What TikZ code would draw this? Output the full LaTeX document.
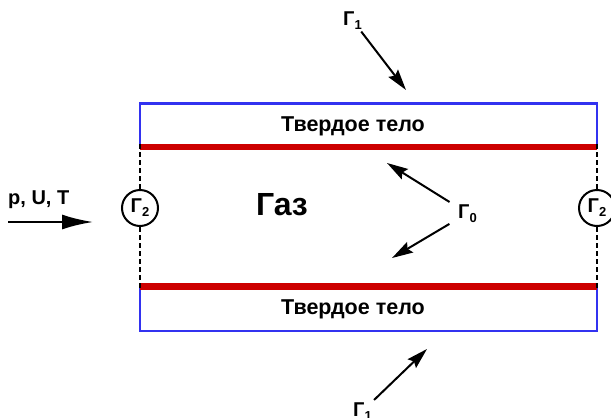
\documentclass[tikz,border=0pt]{standalone}
\usepackage{fontspec}
\setmainfont{Liberation Sans}
\usetikzlibrary{positioning, arrows.meta, calc}
\definecolor{wallblue}{RGB}{50,50,240}
\definecolor{wallred}{RGB}{205,0,0}
\newcommand{\gsub}[1]{Г\raisebox{-4pt}{\fontsize{13}{13}\selectfont #1}}

\begin{document}
\begin{tikzpicture}
    [
        x=1pt, y=-1pt,
        wall/.style={draw=wallblue, line width=2.4pt},
        surface/.style={draw=wallred, line width=6.5pt},
        seam/.style={draw, line width=2.6pt, dash pattern=on 5pt off 3pt},
        label/.style={font=\bfseries\fontsize{20}{20}\selectfont, inner sep=0pt},
        title/.style={font=\bfseries\fontsize{21.5}{21.5}\selectfont, inner sep=0pt},
        port/.style={draw, circle, line width=2pt, minimum size=36pt, inner sep=0pt,
            font=\bfseries\fontsize{20}{20}\selectfont},
        pointer/.style={-{Stealth[length=21pt, width=12pt, inset=3pt]}, line width=2pt}
    ]
        \useasboundingbox (0,0) rectangle (611,418);
        % =========================================================================
        % NODES
        % =========================================================================
        % --- Walls ---
        \coordinate (topleft) at (140,147);
        \coordinate (topright) at (597,147);
        \coordinate (botleft) at (140,286.5);
        \coordinate (botright) at (597,286.5);
        \node [title, anchor=base] (solidtop) at (353,131) {Твердое тело};
        \node [title, anchor=base] (solidbot) at (353,314) {Твердое тело};
        % --- Gas ---
        \node [font=\bfseries\fontsize{32}{32}\selectfont, inner sep=0pt, anchor=base]
            (gas) at (282,215) {Газ};
        \node [label, anchor=base west] (inflowtxt) at (8,204) {p, U, T};
        \coordinate (inflow) at (8,222);
        \coordinate (inflowtip) at (93,222);
        % --- Boundaries ---
        \node [port] (portleft) at (140,208) {\gsub{2}};
        \node [port] (portright) at (597,208) {\gsub{2}};
        \node [label, anchor=base west] (gammatop) at (343,25) {\gsub{1}};
        \coordinate (gammatoptip) at (406,90);
        \node [label, anchor=base west] (gammabot) at (353,416) {\gsub{1}};
        \coordinate (gammabottip) at (427,349);
        \node [label, anchor=base west] (gammazero) at (458,218) {\gsub{0}};
        \coordinate (gammaup) at (387,163);
        \coordinate (gammadown) at (392,258);

        % =========================================================================
        % PATHS
        % =========================================================================
        % --- WALLS ---
        \draw [wall] (topleft) |- (340,103.5) -| (topright);
        \draw [wall] (botleft) |- (340,331) -| (botright);
        \draw [surface] (topleft) -- (topright);
        \draw [surface] (botleft) -- (botright);
        % --- SEAMS ---
        \draw [seam] ([yshift=3pt]topleft) -- (portleft.north);
        \draw [seam] (portleft.south) -- ([yshift=-3pt]botleft);
        \draw [seam] ([yshift=3pt]topright) -- (portright.north);
        \draw [seam] (portright.south) -- ([yshift=-3pt]botright);
        % --- ARROWS ---
        \draw [-{Latex[length=31pt, width=15pt]}, line width=2.2pt] (inflow) -- (inflowtip);
        \draw [pointer, shorten <=3pt] (gammatop) -- (gammatoptip);
        \draw [pointer, shorten <=3pt] (gammabot) -- (gammabottip);
        \draw [pointer, shorten <=10pt] (gammazero) -- (gammaup);
        \draw [pointer, shorten <=10pt] (gammazero) -- (gammadown);

    \end{tikzpicture}
\end{document}
